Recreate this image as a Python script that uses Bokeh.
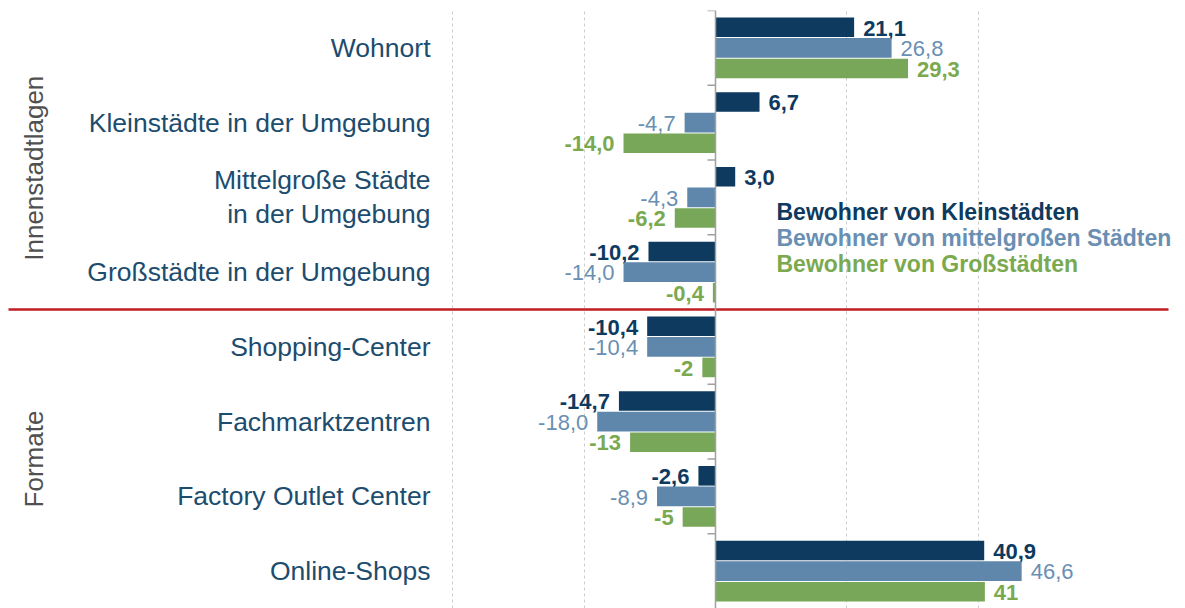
import math
from bokeh.plotting import figure
from bokeh.models import Range1d, FactorRange, ColumnDataSource, Span, Grid, FixedTicker
from bokeh.transform import dodge
from bokeh.core.properties import value
from bokeh.embed import file_html
from bokeh.resources import INLINE

# ---------------- data ----------------
categories = [
    "Wohnort",
    "Kleinstädte in der Umgebung",
    "Mittelgroße Städte\nin der Umgebung",
    "Großstädte in der Umgebung",
    "Shopping-Center",
    "Fachmarktzentren",
    "Factory Outlet Center",
    "Online-Shops",
]
kleinstaedte = [21.1, 6.7, 3.0, -10.2, -10.4, -14.7, -2.6, 40.9]
mittelgross = [26.8, -4.7, -4.3, -14.0, -10.4, -18.0, -8.9, 46.6]
grossstaedte = [29.3, -14.0, -6.2, -0.4, -2, -13, -5, 41]
labels_k = ["21,1", "6,7", "3,0", "-10,2", "-10,4", "-14,7", "-2,6", "40,9"]
labels_m = ["26,8", "-4,7", "-4,3", "-14,0", "-10,4", "-18,0", "-8,9", "46,6"]
labels_g = ["29,3", "-14,0", "-6,2", "-0,4", "-2", "-13", "-5", "41"]
series_names = [
    "Bewohner von Kleinstädten",
    "Bewohner von mittelgroßen Städten",
    "Bewohner von Großstädten",
]
group_names = ["Innenstadtlagen", "Formate"]
grid_ticks = [-40, -20, 20, 40]

# ---------------- styles ----------------
DARK = "#0d3a5e"
MID = "#5f87ab"
GREEN = "#78a759"
DARK_T = "#0d3a5e"
MID_T = "#6a8fb2"
GREEN_T = "#7aa94f"
CAT_T = "#1c4c6e"
GROUP_T = "#505050"
FONT = value("Liberation Sans")

PXU = 6.57           # pixels per unit
ZERO_PX = 715
X0 = -ZERO_PX / PXU
X1 = (1185 - ZERO_PX) / PXU

def px(xp):
    return (xp - ZERO_PX) / PXU

p = figure(width=1185, height=608,
           x_range=Range1d(X0, X1),
           y_range=FactorRange(factors=list(reversed(categories)), range_padding=0),
           x_axis_type=None, y_axis_type=None,
           output_backend="svg", toolbar_location=None,
           min_border_top=10, min_border_bottom=0,
           min_border_left=0, min_border_right=0,
           outline_line_color=None, background_fill_color="white",
           border_fill_color="white")

p.add_layout(Grid(dimension=0, ticker=FixedTicker(ticks=grid_ticks),
                  grid_line_color="#cccccc", grid_line_dash="3 3",
                  grid_line_width=1))

def align(vals):
    return ["left" if v >= 0 else "right" for v in vals]

def offs(vals):
    return [9 if v >= 0 else -9 for v in vals]

src = ColumnDataSource(dict(
    cat=categories, k=kleinstaedte, m=mittelgross, g=grossstaedte,
    lk=labels_k, lm=labels_m, lg=labels_g,
    ak=align(kleinstaedte), am=align(mittelgross), ag=align(grossstaedte),
    ok=offs(kleinstaedte), om=offs(mittelgross), og=offs(grossstaedte),
))

OFF = 0.275
H = 0.262
specs = [
    ("k", "lk", "ak", "ok", OFF, DARK, DARK_T, "bold"),
    ("m", "lm", "am", "om", 0.0, MID, MID_T, "normal"),
    ("g", "lg", "ag", "og", -OFF, GREEN, GREEN_T, "bold"),
]
for col, lcol, acol, ocol, off, c, tc, fs in specs:
    yd = dodge("cat", off, range=p.y_range)
    p.hbar(y=yd, left=0, right=col, height=H, fill_color=c,
           line_color=None, source=src)
    p.text(x=col, y=dodge("cat", off - 0.01, range=p.y_range), text=lcol,
           x_offset=ocol, text_align=acol,
           text_baseline="middle", text_font=FONT, text_font_size="22px",
           text_font_style=fs, text_color=tc, source=src)

# zero axis with ticks at group boundaries
p.add_layout(Span(location=0, dimension="height", line_color="#a0a0a0",
                  line_width=1.5))
p.segment(x0=px(707), x1=0, y0=dodge("cat", 0.5, range=p.y_range),
          y1=dodge("cat", 0.5, range=p.y_range), line_color="#a0a0a0",
          line_width=1.5, source=src)

# category labels
p.text(x=px(430), y=dodge("cat", 0.0, range=p.y_range), text="cat",
       text_align="right", text_baseline="middle", text_font=FONT,
       text_font_size="26.5px", text_color=CAT_T, text_line_height=1.13,
       source=src)

# group labels (rotated)
for cat, name, off in zip(["Kleinstädte in der Umgebung", "Fachmarktzentren"],
                          group_names, [-0.61, -0.5]):
    p.text(x=px(33), y=dodge("cat", off, range=p.y_range), text=value(name),
           angle=math.pi / 2,
           text_align="center", text_baseline="middle", text_font=FONT,
           text_font_size="26px", text_color=GROUP_T,
           source=ColumnDataSource(dict(cat=[cat])))

# separator line between sections
ssrc = ColumnDataSource(dict(cat=["Großstädte in der Umgebung"]))
p.segment(x0=px(8), x1=px(1168), y0=dodge("cat", -0.5, range=p.y_range),
          y1=dodge("cat", -0.5, range=p.y_range), line_color="#bf1e24",
          line_width=2.5, source=ssrc)

# legend as coloured text
for nm, c, off in zip(series_names, [DARK_T, MID_T, GREEN_T], [0.80, 0.455, 0.11]):
    p.text(x=px(776), y=dodge("cat", off, range=p.y_range), text=value(nm),
           text_align="left", text_baseline="middle", text_font=FONT,
           text_font_size="23px", text_font_style="bold", text_color=c,
           source=ColumnDataSource(dict(cat=["Großstädte in der Umgebung"])))

open("out.html", "w").write(file_html(p, INLINE))
